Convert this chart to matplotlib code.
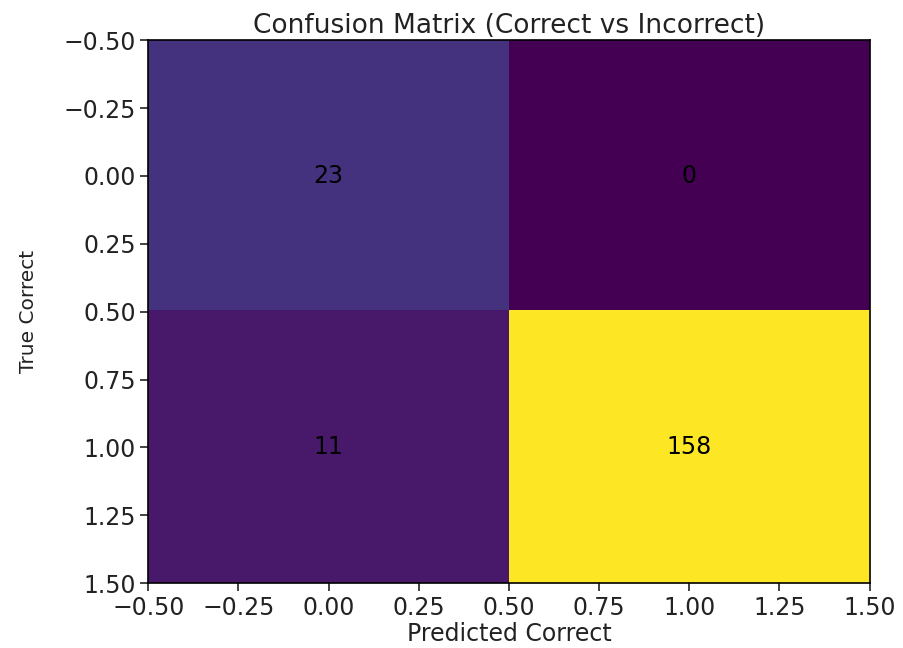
import numpy as np
import matplotlib
matplotlib.use("Agg")
import matplotlib.pyplot as plt

# confusion counts: rows = true, cols = predicted
cm = np.array([[23, 0],
               [11, 158]])
title = "Confusion Matrix (Correct vs Incorrect)"
xlabel = "Predicted Correct"
ylabel = "True Correct"

fig = plt.figure(figsize=(9.04, 6.48), dpi=100)
ax = fig.add_axes([0.164, 0.100, 0.798, 0.838])
ax.imshow(cm, cmap="viridis", aspect="auto")

for i in range(cm.shape[0]):
    for j in range(cm.shape[1]):
        ax.text(j, i, str(cm[i, j]), ha="center", va="center",
                color="black", fontsize=17)

ticks = np.arange(-0.5, 1.51, 0.25)
ax.set_xticks(ticks)
ax.set_yticks(ticks)
ax.set_xticklabels(["{:.2f}".format(t).replace("-", "\u2212") for t in ticks])
ax.set_yticklabels(["{:.2f}".format(t).replace("-", "\u2212") for t in ticks])
ax.tick_params(labelsize=17, length=6, width=1.2, pad=3, colors="#222222")
for s in ax.spines.values():
    s.set_linewidth(1.2)

ax.set_title(title, fontsize=19, pad=5, color="#222222")
ax.set_xlabel(xlabel, fontsize=17, labelpad=2, color="#222222")
ax.set_ylabel(ylabel, fontsize=14.5, labelpad=18, color="#222222")

fig.savefig("out.png", dpi=100)
